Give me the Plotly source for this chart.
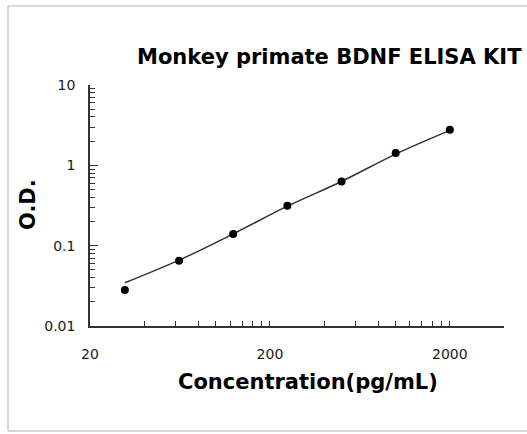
import plotly.graph_objects as go

# Standards (concentration pg/mL) and measured O.D.
conc = [31.25, 62.5, 125, 250, 500, 1000, 2000]
od = [0.028, 0.065, 0.14, 0.315, 0.627, 1.42, 2.77]

# Fitted standard curve
curve_conc = [31.25, 62.5, 125, 250, 500, 1000, 2000]
curve_od = [0.0345, 0.066, 0.14, 0.31, 0.63, 1.38, 2.72]

x_major = [20, 200, 2000]
x_major_labels = ["20", "200", "2000"]
x_minor = [40, 60, 80, 100, 120, 140, 160, 180,
           400, 600, 800, 1000, 1200, 1400, 1600, 1800, 4000]
y_major = [0.01, 0.1, 1, 10]
y_major_labels = ["0.01", "0.1", "1", "10"]
y_minor = [m * d for d in (0.01, 0.1, 1) for m in range(2, 10)]

W, H = 527, 434
L, R, T, B = 90, 23, 85, 108
pw, ph = W - L - R, H - T - B

def px_x(p):
    return (p - L) / pw

def px_y(p):
    return (H - B - p) / ph

axis_col = "#333333"
text_col = "#1a1a1a"
frame = dict(color="#cccccc", width=1.5)

fig = go.Figure()
fig.add_trace(go.Scatter(
    x=curve_conc, y=curve_od, mode="lines",
    line=dict(color="#333333", width=1.5, shape="spline"),
    hoverinfo="skip", showlegend=False))
fig.add_trace(go.Scatter(
    x=conc, y=od, mode="markers",
    marker=dict(color="black", size=8),
    showlegend=False))

fig.update_xaxes(
    type="log", range=[1.30103, 3.60206],
    showline=True, linecolor=axis_col, linewidth=1.5,
    showgrid=False, zeroline=False,
    tickmode="array", tickvals=x_major, ticktext=x_major_labels,
    ticks="inside", ticklen=5, tickwidth=1.2, tickcolor=axis_col,
    ticklabelstandoff=14,
    tickfont=dict(family="DejaVu Sans", size=14, color=text_col),
    minor=dict(tickmode="array", tickvals=x_minor, ticks="inside",
               ticklen=5, tickwidth=1.2, tickcolor=axis_col, showgrid=False),
)
fig.update_yaxes(
    type="log", range=[-2, 1],
    showline=True, linecolor=axis_col, linewidth=1.5,
    showgrid=False, zeroline=False,
    tickmode="array", tickvals=y_major, ticktext=y_major_labels,
    ticks="inside", ticklen=8, tickwidth=1.2, tickcolor=axis_col,
    ticklabelstandoff=10,
    tickfont=dict(family="DejaVu Sans", size=14, color=text_col),
    minor=dict(tickmode="array", tickvals=y_minor, ticks="inside",
               ticklen=5, tickwidth=1.2, tickcolor=axis_col, showgrid=False),
)

fig.update_layout(
    width=W, height=H,
    margin=dict(l=L, r=R, t=T, b=B),
    paper_bgcolor="white", plot_bgcolor="white",
    title=dict(text="<b>Monkey primate BDNF ELISA KIT</b>",
               font=dict(family="DejaVu Sans", size=21, color="black"),
               xref="paper", x=px_x(137), xanchor="left",
               yref="container", y=1 - 57 / H, yanchor="middle"),
    annotations=[
        dict(text="<b>Concentration(pg/mL)</b>", xref="paper", yref="paper",
             x=px_x(307.5), y=px_y(382), xanchor="center", yanchor="middle",
             showarrow=False,
             font=dict(family="DejaVu Sans", size=21, color="black")),
        dict(text="<b>O.D.</b>", xref="paper", yref="paper",
             x=px_x(28), y=px_y(205), xanchor="center", yanchor="middle",
             textangle=-90, showarrow=False,
             font=dict(family="DejaVu Sans", size=21, color="black")),
    ],
    shapes=[
        dict(type="line", xref="paper", yref="paper", layer="below",
             x0=px_x(8), x1=px_x(W), y0=px_y(6), y1=px_y(6), line=frame),
        dict(type="line", xref="paper", yref="paper", layer="below",
             x0=px_x(8), x1=px_x(W), y0=px_y(431), y1=px_y(431), line=frame),
        dict(type="line", xref="paper", yref="paper", layer="below",
             x0=px_x(8), x1=px_x(8), y0=px_y(6), y1=px_y(431), line=frame),
    ],
)

fig.write_html(
    "out.html",
    config={"displayModeBar": False},
    post_script="document.body.style.margin='0';"
                "document.body.style.overflow='hidden';",
)
